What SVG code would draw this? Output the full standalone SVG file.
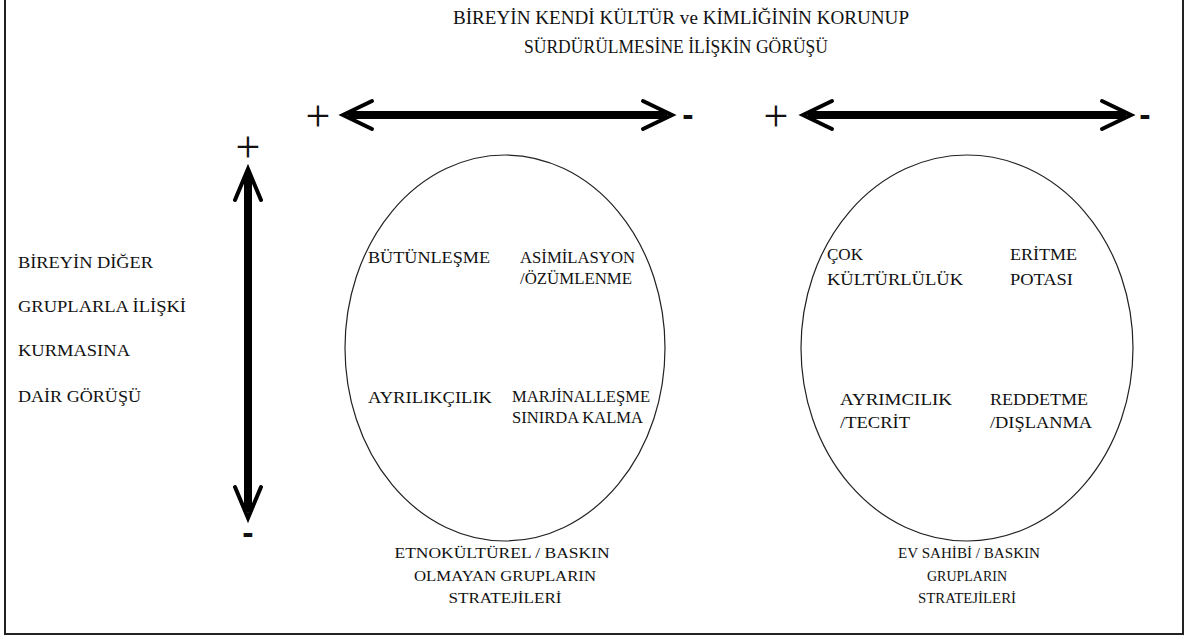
<svg xmlns="http://www.w3.org/2000/svg" width="1189" height="636" viewBox="0 0 1189 636">
<style>
text{font-family:"Liberation Serif","Times New Roman","DejaVu Serif",serif;fill:#111}
.t{font-size:19px}
.l{font-size:16px}
.c{font-size:16px}
.b{font-size:15px}
.m{text-anchor:middle}
.plus{font-family:"Liberation Serif","Times New Roman",serif;font-size:44px;fill:#111;text-anchor:middle}
.minus{font-family:"Liberation Sans",Arial,sans-serif;font-size:34px;font-weight:bold;fill:#111;text-anchor:middle}
.shaft{stroke:#000;stroke-width:8;fill:none}
.head{stroke:#000;stroke-width:4;fill:none;stroke-linecap:round;stroke-linejoin:miter}
.ell{fill:none;stroke:#222;stroke-width:1.2}
</style>
<rect x="0" y="0" width="1189" height="636" fill="#fff"/>
<rect x="5" y="-5" width="1178" height="639" fill="none" stroke="#222" stroke-width="2"/>
<g id="title">
<text class="t m" x="681" y="24" textLength="456" lengthAdjust="spacingAndGlyphs">BİREYİN KENDİ KÜLTÜR ve KİMLİĞİNİN KORUNUP</text>
<text class="t m" x="676" y="53" textLength="304" lengthAdjust="spacingAndGlyphs">SÜRDÜRÜLMESİNE İLİŞKİN GÖRÜŞÜ</text>
</g>
<g id="y-axis-label">
<text class="l" x="18" y="268" textLength="135" lengthAdjust="spacingAndGlyphs">BİREYİN DİĞER</text>
<text class="l" x="18" y="312" textLength="168" lengthAdjust="spacingAndGlyphs">GRUPLARLA İLİŞKİ</text>
<text class="l" x="18" y="356" textLength="112" lengthAdjust="spacingAndGlyphs">KURMASINA</text>
<text class="l" x="18" y="402" textLength="123" lengthAdjust="spacingAndGlyphs">DAİR GÖRÜŞÜ</text>
</g>
<g id="connectors">
<g id="h-arrow-left">
<line class="shaft" x1="348" y1="115" x2="667" y2="115"/>
<polyline class="head" points="372,101 343,115 372,129"/>
<polyline class="head" points="643,101 672,115 643,129"/>
</g>
<g id="h-arrow-right">
<line class="shaft" x1="808" y1="115" x2="1126" y2="115"/>
<polyline class="head" points="832,101 803,115 832,129"/>
<polyline class="head" points="1102,101 1131,115 1102,129"/>
</g>
<g id="v-arrow">
<line class="shaft" x1="248" y1="174" x2="248" y2="512"/>
<polyline class="head" points="235,200 248,169 261,200"/>
<polyline class="head" points="235,487 248,518 261,487"/>
</g>
</g>
<g id="signs">
<text class="plus" x="318" y="131">+</text>
<text class="minus" x="688" y="126">-</text>
<text class="plus" x="776" y="131">+</text>
<text class="minus" x="1145" y="126">-</text>
<text class="plus" x="248" y="162">+</text>
<text class="minus" x="248" y="544">-</text>
</g>
<g id="circle-left">
<ellipse class="ell" cx="505" cy="348" rx="160" ry="193"/>
<text class="c" x="368" y="263" textLength="122" lengthAdjust="spacingAndGlyphs">BÜTÜNLEŞME</text>
<text class="c" x="520" y="263" textLength="115" lengthAdjust="spacingAndGlyphs">ASİMİLASYON</text>
<text class="c" x="520" y="284" textLength="112" lengthAdjust="spacingAndGlyphs">/ÖZÜMLENME</text>
<text class="c" x="368" y="403" textLength="124" lengthAdjust="spacingAndGlyphs">AYRILIKÇILIK</text>
<text class="c" x="512" y="402" textLength="138" lengthAdjust="spacingAndGlyphs">MARJİNALLEŞME</text>
<text class="c" x="512" y="423" textLength="131" lengthAdjust="spacingAndGlyphs">SINIRDA KALMA</text>
</g>
<g id="circle-right">
<ellipse class="ell" cx="967" cy="348" rx="166" ry="193"/>
<text class="c" x="827" y="260" textLength="36" lengthAdjust="spacingAndGlyphs">ÇOK</text>
<text class="c" x="827" y="285" textLength="136" lengthAdjust="spacingAndGlyphs">KÜLTÜRLÜLÜK</text>
<text class="c" x="1010" y="260" textLength="67" lengthAdjust="spacingAndGlyphs">ERİTME</text>
<text class="c" x="1010" y="285" textLength="63" lengthAdjust="spacingAndGlyphs">POTASI</text>
<text class="c" x="840" y="405" textLength="112" lengthAdjust="spacingAndGlyphs">AYRIMCILIK</text>
<text class="c" x="840" y="428" textLength="70" lengthAdjust="spacingAndGlyphs">/TECRİT</text>
<text class="c" x="990" y="405" textLength="98" lengthAdjust="spacingAndGlyphs">REDDETME</text>
<text class="c" x="990" y="428" textLength="102" lengthAdjust="spacingAndGlyphs">/DIŞLANMA</text>
</g>
<g id="label-left">
<text class="b m" x="502" y="558" textLength="215" lengthAdjust="spacingAndGlyphs">ETNOKÜLTÜREL / BASKIN</text>
<text class="b m" x="505" y="581" textLength="182" lengthAdjust="spacingAndGlyphs">OLMAYAN GRUPLARIN</text>
<text class="b m" x="505" y="603" textLength="113" lengthAdjust="spacingAndGlyphs">STRATEJİLERİ</text>
</g>
<g id="label-right">
<text class="b m" x="969" y="558" textLength="142" lengthAdjust="spacingAndGlyphs">EV SAHİBİ / BASKIN</text>
<text class="b m" x="967" y="581" textLength="80" lengthAdjust="spacingAndGlyphs">GRUPLARIN</text>
<text class="b m" x="967" y="603" textLength="98" lengthAdjust="spacingAndGlyphs">STRATEJİLERİ</text>
</g>
</svg>
